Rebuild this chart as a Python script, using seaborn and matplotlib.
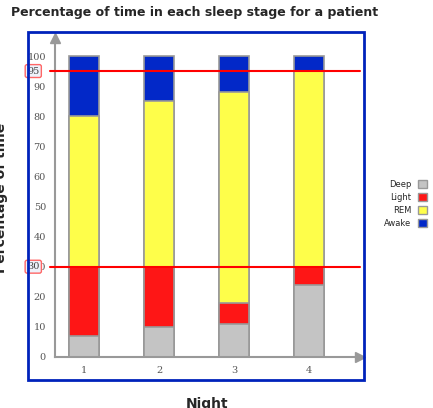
import numpy as np
import pandas as pd
import matplotlib
matplotlib.use("Agg")
import matplotlib.pyplot as plt
from matplotlib.patches import Rectangle, Patch
import seaborn as sns

nights = ["1", "2", "3", "4"]
deep = [7, 10, 11, 24]
light = [23, 20, 7, 6]
rem = [50, 55, 70, 65]
awake = [20, 15, 12, 5]
stages = ["Deep", "Light", "REM", "Awake"]
colors = ["#c4c4c4", "#fe1616", "#fefe4a", "#0228c8"]
ref_lines = [30, 95]

sns.set_style("white")
fig = plt.figure(figsize=(4.33, 4.08), dpi=100)
ax = fig.add_axes([0.127, 0.125, 0.704, 0.782])

df = pd.DataFrame({"night": nights, "Deep": deep, "Light": light, "REM": rem, "Awake": awake})
cum = df[stages].cumsum(axis=1)
cum["night"] = nights
# draw tallest first so the lower layers sit on top
for st, c in reversed(list(zip(stages, colors))):
    sns.barplot(data=cum, x="night", y=st, color=c, width=0.4, saturation=1,
                edgecolor="#999999", linewidth=1.2, ax=ax)

ax.set_xlim(-0.39, 3.68)
ax.set_ylim(0, 106)
ax.set_yticks(range(0, 101, 10))
ax.tick_params(axis="both", colors="#888888", labelsize=7, length=3, width=1)
for lab in ax.get_xticklabels() + ax.get_yticklabels():
    lab.set_family("DejaVu Serif")
    lab.set_color("#555555")
for s in ["top", "right"]:
    ax.spines[s].set_visible(False)
for s in ["left", "bottom"]:
    ax.spines[s].set_color("#999999")
    ax.spines[s].set_linewidth(1.5)
ax.plot(0, 1, "^", color="#999999", ms=7, transform=ax.transAxes, clip_on=False)
ax.plot(1, 0, ">", color="#999999", ms=7, transform=ax.transAxes, clip_on=False)
ax.set_xlabel("Night", fontsize=10, fontweight="bold", labelpad=16)
ax.set_ylabel("Percentage of time", fontsize=10, fontweight="bold", labelpad=14)

for v in ref_lines:
    ax.plot([-0.45, 3.68], [v, v], color="#ff0000", lw=1.5, clip_on=False, zorder=5)
    ax.text(-0.68, v, str(v), ha="center", va="center", fontsize=7, family="DejaVu Serif",
            color="#444444", zorder=6,
            bbox=dict(boxstyle="round,pad=0.2", fc="#eef2fa", ec="#ff6666", lw=1))

fig.add_artist(Rectangle((0.065, 0.069), 0.776, 0.853, transform=fig.transFigure,
                         fill=False, ec="#0022bb", lw=2))
fig.suptitle("Percentage of time in each sleep stage for a patient", fontsize=9,
             fontweight="bold", x=0.45, y=0.985)

handles = [Patch(fc=c, ec="#999999") for c in colors]
fig.legend(handles, stages, loc="center left", bbox_to_anchor=(0.87, 0.5), frameon=False,
           markerfirst=False, fontsize=6, handlelength=1.1, handleheight=1.1, labelspacing=0.5)

fig.savefig("out.png", dpi=100)
